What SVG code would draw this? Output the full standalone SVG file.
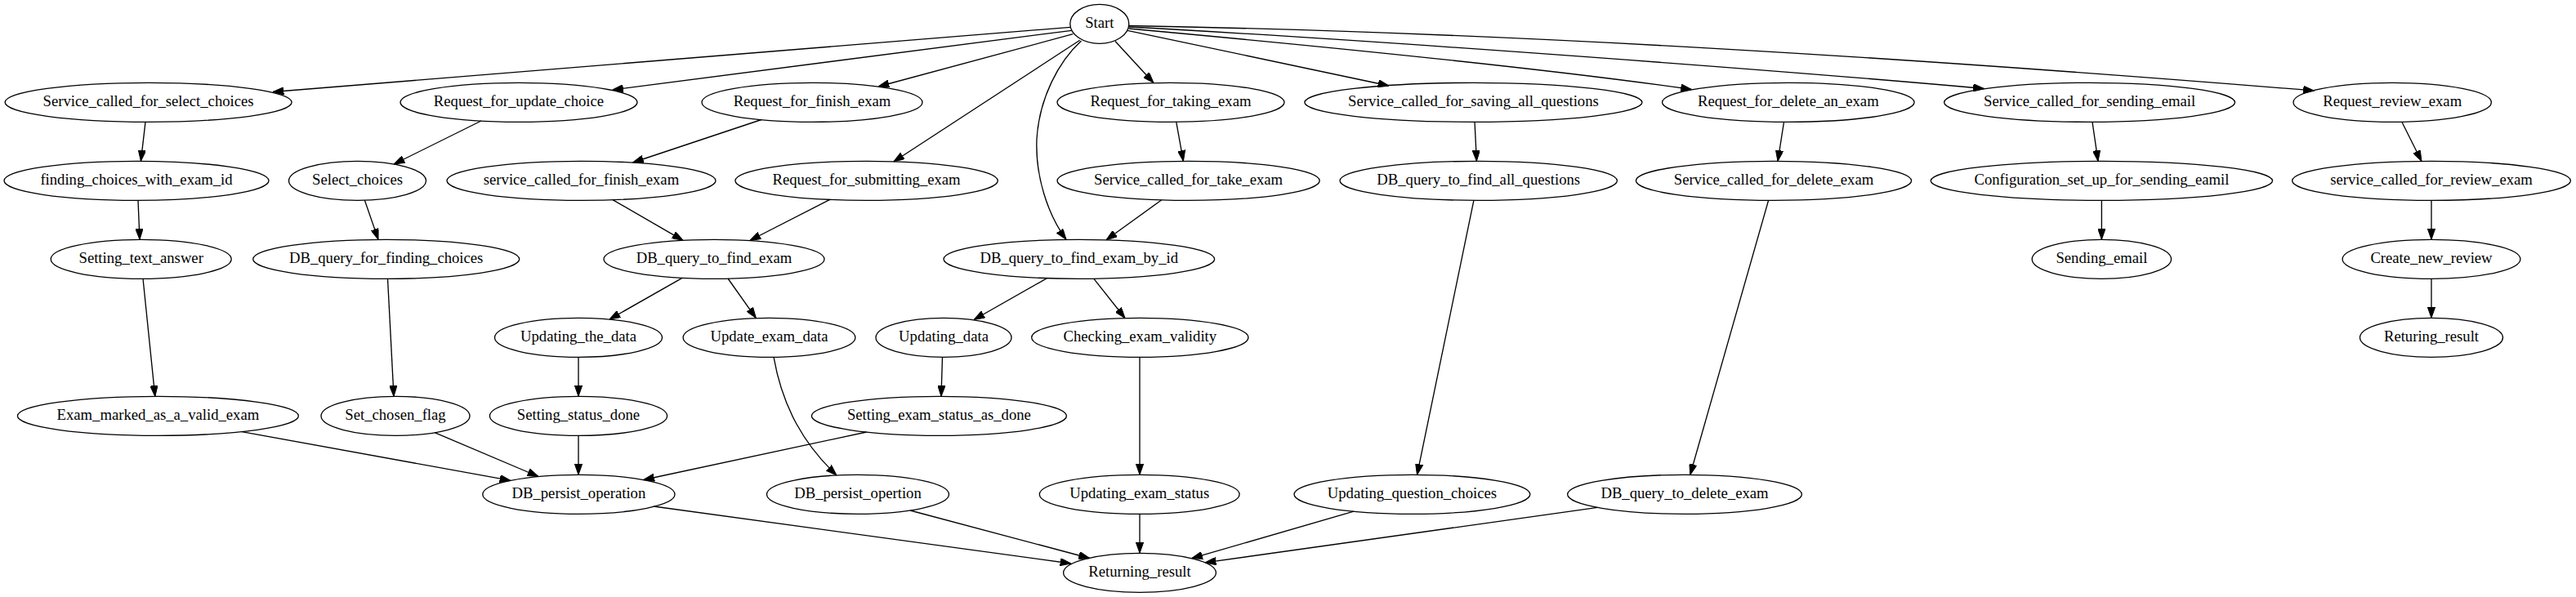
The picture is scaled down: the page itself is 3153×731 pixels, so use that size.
<svg xmlns="http://www.w3.org/2000/svg" width="3153" height="731" viewBox="0 0 3153 731">
<style>
.n ellipse{fill:none;stroke:#000;stroke-width:1.33}
.n text{font-family:"Liberation Serif","Times New Roman",serif;font-size:18.67px;text-anchor:middle;fill:#000}
#edges path{fill:none;stroke:#000;stroke-width:1.33;marker-end:url(#ah)}
</style>
<defs>
<marker id="ah" viewBox="0 0 13.33 9.33" refX="13.33" refY="4.67" markerWidth="13.33" markerHeight="9.33" markerUnits="userSpaceOnUse" orient="auto">
<path d="M0,0 L13.33,4.67 L0,9.33 z" fill="#000" stroke="#000" stroke-width="1"/>
</marker>
</defs>
<rect width="3153" height="731" fill="#fff"/>
<g id="edges">
<path d="M1310,33.3 L334,112.5"/>
<path d="M1311.7,37.3 L749.6,110"/>
<path d="M1313.3,41.7 L1075,106"/>
<path d="M1321.7,49.3 L1093.8,198"/>
<path d="M1323.5,50 C1296,75 1272,120 1269,170 C1267,215 1282,262 1305,293.3"/>
<path d="M1365,50.5 L1412,101.5"/>
<path d="M1380,37.3 L1700,105"/>
<path d="M1381.5,35 C1600,55 1900,85 2070.5,109.5"/>
<path d="M1382,33 C1700,50 2200,88 2428.5,108.5"/>
<path d="M1382,31.5 C1862,40 2352,72 2832.6,111"/>
<path d="M178,149.3 L172.4,197.3"/>
<path d="M589,148 L482,201"/>
<path d="M932,146.5 L774.5,199"/>
<path d="M1439.7,149.2 L1448.4,197.4"/>
<path d="M1805,149.3 L1807.4,197.3"/>
<path d="M2183.5,149.3 L2176,197.4"/>
<path d="M2561,149.3 L2568,197.4"/>
<path d="M2939.7,149 L2964,197.5"/>
<path d="M169,245.3 L171,293.3"/>
<path d="M446.4,245.2 L463,293.4"/>
<path d="M750,244.6 L836,294.3"/>
<path d="M1015.7,244.4 L917.8,294.5"/>
<path d="M1421.8,244.8 L1354,293.8"/>
<path d="M2572.4,245.3 L2572.4,293.3"/>
<path d="M2976,245.3 L2976,293.3"/>
<path d="M835,340.3 L746,391"/>
<path d="M891,341 L925.4,389.6"/>
<path d="M1281.5,340.6 L1192,391.5"/>
<path d="M1338.7,341.2 L1377,389.5"/>
<path d="M2976,341.3 L2976,389.3"/>
<path d="M175,341.3 L189.8,485.4"/>
<path d="M474.5,341.3 L482,485.4"/>
<path d="M708,437.3 L708,485.3"/>
<path d="M1153.5,437.3 L1152,485.3"/>
<path d="M1803.9,245.3 L1734.5,581.4"/>
<path d="M2164.6,245.3 L2068.7,581.5"/>
<path d="M1395,437.3 L1395,581.3"/>
<path d="M947,437.2 C958,500 985,545 1024,582"/>
<path d="M296,528.6 L625,588.4"/>
<path d="M532,529.7 L659,583.5"/>
<path d="M708,533.3 L708,581.3"/>
<path d="M1060.6,529 L787.7,587.5"/>
<path d="M800,620 L1311,690"/>
<path d="M1114,625 L1333.6,683.5"/>
<path d="M1395,629.3 L1395,677.3"/>
<path d="M1657,626.2 L1458.6,683.7"/>
<path d="M1955.4,621.4 L1475,688.9"/>
</g>
<g id="n_start" class="n"><ellipse cx="1345.8" cy="29.33" rx="36" ry="24"/><text x="1345.8" y="34.3">Start</text></g>
<g id="n_svc_select" class="n"><ellipse cx="181.6" cy="125.33" rx="175.5" ry="24"/><text x="181.6" y="130.3">Service_called_for_select_choices</text></g>
<g id="n_req_update" class="n"><ellipse cx="635" cy="125.33" rx="145" ry="24"/><text x="635" y="130.3">Request_for_update_choice</text></g>
<g id="n_req_finish" class="n"><ellipse cx="994" cy="125.33" rx="135" ry="24"/><text x="994" y="130.3">Request_for_finish_exam</text></g>
<g id="n_req_taking" class="n"><ellipse cx="1433" cy="125.33" rx="139" ry="24"/><text x="1433" y="130.3">Request_for_taking_exam</text></g>
<g id="n_svc_saving" class="n"><ellipse cx="1803.4" cy="125.33" rx="206.6" ry="24"/><text x="1803.4" y="130.3">Service_called_for_saving_all_questions</text></g>
<g id="n_req_delete" class="n"><ellipse cx="2188.8" cy="125.33" rx="154.3" ry="24"/><text x="2188.8" y="130.3">Request_for_delete_an_exam</text></g>
<g id="n_svc_email" class="n"><ellipse cx="2557.6" cy="125.33" rx="178" ry="24"/><text x="2557.6" y="130.3">Service_called_for_sending_email</text></g>
<g id="n_req_review" class="n"><ellipse cx="2928.2" cy="125.33" rx="121.2" ry="24"/><text x="2928.2" y="130.3">Request_review_exam</text></g>
<g id="n_finding_choices" class="n"><ellipse cx="167" cy="221.33" rx="162" ry="24"/><text x="167" y="226.3">finding_choices_with_exam_id</text></g>
<g id="n_select_choices" class="n"><ellipse cx="437.5" cy="221.33" rx="84" ry="24"/><text x="437.5" y="226.3">Select_choices</text></g>
<g id="n_svc_finish" class="n"><ellipse cx="711.5" cy="221.33" rx="164.5" ry="24"/><text x="711.5" y="226.3">service_called_for_finish_exam</text></g>
<g id="n_req_submit" class="n"><ellipse cx="1060.6" cy="221.33" rx="160.7" ry="24"/><text x="1060.6" y="226.3">Request_for_submitting_exam</text></g>
<g id="n_svc_take" class="n"><ellipse cx="1454.6" cy="221.33" rx="160.6" ry="24"/><text x="1454.6" y="226.3">Service_called_for_take_exam</text></g>
<g id="n_db_all_q" class="n"><ellipse cx="1809.7" cy="221.33" rx="169.7" ry="24"/><text x="1809.7" y="226.3">DB_query_to_find_all_questions</text></g>
<g id="n_svc_delete" class="n"><ellipse cx="2171" cy="221.33" rx="168.6" ry="24"/><text x="2171" y="226.3">Service_called_for_delete_exam</text></g>
<g id="n_config_email" class="n"><ellipse cx="2572.4" cy="221.33" rx="209.2" ry="24"/><text x="2572.4" y="226.3">Configuration_set_up_for_sending_eamil</text></g>
<g id="n_svc_review" class="n"><ellipse cx="2976" cy="221.33" rx="170.4" ry="24"/><text x="2976" y="226.3">service_called_for_review_exam</text></g>
<g id="n_set_text" class="n"><ellipse cx="172.7" cy="317.33" rx="110.5" ry="24"/><text x="172.7" y="322.3">Setting_text_answer</text></g>
<g id="n_db_choices" class="n"><ellipse cx="472.7" cy="317.33" rx="163" ry="24"/><text x="472.7" y="322.3">DB_query_for_finding_choices</text></g>
<g id="n_db_find_exam" class="n"><ellipse cx="874" cy="317.33" rx="135" ry="24"/><text x="874" y="322.3">DB_query_to_find_exam</text></g>
<g id="n_db_exam_by_id" class="n"><ellipse cx="1320.8" cy="317.33" rx="165.8" ry="24"/><text x="1320.8" y="322.3">DB_query_to_find_exam_by_id</text></g>
<g id="n_send_email" class="n"><ellipse cx="2572.4" cy="317.33" rx="85.2" ry="24"/><text x="2572.4" y="322.3">Sending_email</text></g>
<g id="n_create_review" class="n"><ellipse cx="2976" cy="317.33" rx="108.9" ry="24"/><text x="2976" y="322.3">Create_new_review</text></g>
<g id="n_upd_the_data" class="n"><ellipse cx="708" cy="413.33" rx="102.5" ry="24"/><text x="708" y="418.3">Updating_the_data</text></g>
<g id="n_upd_exam_data" class="n"><ellipse cx="941.5" cy="413.33" rx="105.4" ry="24"/><text x="941.5" y="418.3">Update_exam_data</text></g>
<g id="n_upd_data" class="n"><ellipse cx="1155" cy="413.33" rx="83" ry="24"/><text x="1155" y="418.3">Updating_data</text></g>
<g id="n_check_valid" class="n"><ellipse cx="1395.3" cy="413.33" rx="132.6" ry="24"/><text x="1395.3" y="418.3">Checking_exam_validity</text></g>
<g id="n_returing" class="n"><ellipse cx="2976" cy="413.33" rx="87.5" ry="24"/><text x="2976" y="418.3">Returing_result</text></g>
<g id="n_exam_marked" class="n"><ellipse cx="193.4" cy="509.33" rx="172" ry="24"/><text x="193.4" y="514.3">Exam_marked_as_a_valid_exam</text></g>
<g id="n_set_chosen" class="n"><ellipse cx="484" cy="509.33" rx="91" ry="24"/><text x="484" y="514.3">Set_chosen_flag</text></g>
<g id="n_set_status_done" class="n"><ellipse cx="708" cy="509.33" rx="108.6" ry="24"/><text x="708" y="514.3">Setting_status_done</text></g>
<g id="n_set_exam_status" class="n"><ellipse cx="1149.4" cy="509.33" rx="156" ry="24"/><text x="1149.4" y="514.3">Setting_exam_status_as_done</text></g>
<g id="n_db_persist_op" class="n"><ellipse cx="708.4" cy="605.33" rx="117.6" ry="24"/><text x="708.4" y="610.3">DB_persist_operation</text></g>
<g id="n_db_persist_opertion" class="n"><ellipse cx="1050" cy="605.33" rx="111.5" ry="24"/><text x="1050" y="610.3">DB_persist_opertion</text></g>
<g id="n_upd_exam_status" class="n"><ellipse cx="1394.7" cy="605.33" rx="122.4" ry="24"/><text x="1394.7" y="610.3">Updating_exam_status</text></g>
<g id="n_upd_q_choices" class="n"><ellipse cx="1728.4" cy="605.33" rx="144.4" ry="24"/><text x="1728.4" y="610.3">Updating_question_choices</text></g>
<g id="n_db_delete" class="n"><ellipse cx="2062" cy="605.33" rx="143.4" ry="24"/><text x="2062" y="610.3">DB_query_to_delete_exam</text></g>
<g id="n_returning" class="n"><ellipse cx="1395" cy="701.33" rx="93.4" ry="24"/><text x="1395" y="706.3">Returning_result</text></g>
</svg>
